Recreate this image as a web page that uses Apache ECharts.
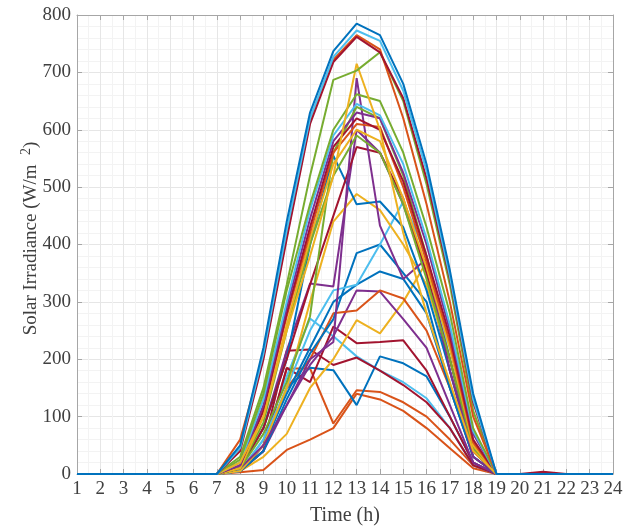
<!DOCTYPE html>
<html>
  <head>
    <meta charset="UTF-8" />
    <title>Solar Irradiance</title>
    <script src="https://cdn.jsdelivr.net/npm/echarts@6/dist/echarts.min.js"></script>
    <style>
      body {
        padding: 0;
        margin: 0;
        background: #fff;
      }
      #main {
        width: 635px;
        height: 531px;
      }
    </style>
  </head>
  <body>
    <div id="main"></div>
    <script type="text/javascript">
      // hours on the x axis
      var hours = [1, 2, 3, 4, 5, 6, 7, 8, 9, 10, 11, 12, 13, 14, 15, 16, 17, 18, 19, 20, 21, 22, 23, 24];

      // irradiance per hour (W/m2), one array per day
      var s01 = [0, 0, 0, 0, 0, 0, 0, 50, 220, 440, 630, 737, 785, 765, 680, 540, 355, 140, 0, 0, 0, 0, 0, 0];
      var s02 = [0, 0, 0, 0, 0, 0, 0, 45, 210, 425, 620, 727, 773, 755, 668, 528, 345, 130, 0, 0, 0, 0, 0, 0];
      var s03 = [0, 0, 0, 0, 0, 0, 0, 40, 200, 410, 610, 718, 762, 735, 655, 515, 340, 125, 0, 0, 4, 0, 0, 0];
      var s04 = [0, 0, 0, 0, 0, 0, 0, 60, 205, 415, 615, 722, 765, 740, 620, 470, 300, 100, 0, 0, 0, 0, 0, 0];
      var s05 = [0, 0, 0, 0, 0, 0, 0, 30, 150, 330, 520, 687, 703, 735, 650, 505, 330, 110, 0, 0, 0, 0, 0, 0];
      var s06 = [0, 0, 0, 0, 0, 0, 0, 20, 100, 250, 380, 520, 715, 600, 420, 280, 160, 40, 0, 0, 0, 0, 0, 0];
      var s07 = [0, 0, 0, 0, 0, 0, 0, 25, 140, 320, 470, 600, 662, 650, 560, 430, 280, 80, 0, 0, 0, 0, 0, 0];
      var s08 = [0, 0, 0, 0, 0, 0, 0, 20, 130, 300, 460, 590, 645, 625, 540, 410, 260, 75, 0, 0, 0, 0, 0, 0];
      var s09 = [0, 0, 0, 0, 0, 0, 0, 15, 120, 290, 445, 580, 630, 620, 525, 400, 250, 70, 0, 0, 0, 0, 0, 0];
      var s10 = [0, 0, 0, 0, 0, 0, 0, 15, 110, 280, 430, 570, 620, 600, 510, 380, 240, 60, 0, 0, 0, 0, 0, 0];
      var s11 = [0, 0, 0, 0, 0, 0, 0, 20, 115, 275, 420, 560, 610, 605, 500, 370, 230, 55, 0, 0, 0, 0, 0, 0];
      var s12 = [0, 0, 0, 0, 0, 0, 0, 10, 100, 260, 410, 540, 600, 580, 480, 360, 220, 50, 0, 0, 0, 0, 0, 0];
      var s13 = [0, 0, 0, 0, 0, 0, 0, 10, 90, 250, 400, 520, 590, 560, 470, 340, 200, 45, 0, 0, 0, 0, 0, 0];
      var s14 = [0, 0, 0, 0, 0, 0, 0, 10, 50, 120, 200, 230, 690, 433, 340, 375, 180, 40, 0, 0, 0, 0, 0, 0];
      var s15 = [0, 0, 0, 0, 0, 0, 0, 10, 80, 200, 330, 450, 570, 560, 480, 350, 200, 40, 0, 0, 0, 0, 0, 0];
      var s16 = [0, 0, 0, 0, 0, 0, 0, 10, 80, 200, 400, 555, 470, 475, 430, 320, 180, 40, 0, 0, 0, 0, 0, 0];
      var s17 = [0, 0, 0, 0, 0, 0, 0, 5, 50, 150, 300, 440, 488, 460, 400, 330, 200, 50, 0, 0, 0, 0, 0, 0];
      var s18 = [0, 0, 0, 0, 0, 0, 0, 10, 70, 160, 275, 560, 640, 620, 520, 380, 220, 50, 0, 0, 0, 0, 0, 0];
      var s19 = [0, 0, 0, 0, 0, 0, 0, 5, 60, 150, 250, 320, 330, 400, 475, 380, 200, 40, 0, 0, 0, 0, 0, 0];
      var s20 = [0, 0, 0, 0, 0, 0, 0, 5, 40, 130, 210, 270, 385, 400, 350, 300, 150, 30, 0, 0, 0, 0, 0, 0];
      var s21 = [0, 0, 0, 0, 0, 0, 0, 10, 80, 215, 332, 327, 600, 560, 470, 350, 180, 30, 0, 0, 0, 0, 0, 0];
      var s22 = [0, 0, 0, 0, 0, 0, 0, 5, 50, 150, 200, 280, 285, 320, 306, 250, 150, 30, 0, 0, 0, 0, 0, 0];
      var s23 = [0, 0, 0, 0, 0, 0, 0, 5, 40, 120, 190, 240, 320, 318, 270, 220, 120, 20, 0, 0, 0, 0, 0, 0];
      var s24 = [0, 0, 0, 0, 0, 0, 0, 5, 30, 70, 150, 200, 268, 245, 300, 370, 200, 40, 0, 0, 0, 0, 0, 0];
      var s25 = [0, 0, 0, 0, 0, 0, 0, 5, 40, 185, 160, 257, 228, 230, 233, 180, 100, 20, 0, 0, 0, 0, 0, 0];
      var s26 = [0, 0, 0, 0, 0, 0, 0, 5, 50, 215, 217, 190, 203, 180, 155, 125, 80, 15, 0, 0, 0, 0, 0, 0];
      var s27 = [0, 0, 0, 0, 0, 0, 0, 5, 40, 150, 185, 181, 120, 205, 193, 170, 100, 20, 0, 0, 0, 0, 0, 0];
      var s28 = [0, 0, 0, 0, 0, 0, 0, 5, 60, 170, 271, 240, 205, 180, 160, 132, 80, 15, 0, 0, 0, 0, 0, 0];
      var s29 = [0, 0, 0, 0, 0, 0, 0, 5, 40, 184, 184, 88, 146, 143, 125, 100, 60, 15, 0, 0, 0, 0, 0, 0];
      var s30 = [0, 0, 0, 0, 0, 0, 0, 3, 7, 42, 60, 80, 140, 130, 110, 80, 45, 10, 0, 0, 0, 0, 0, 0];
      var s31 = [0, 0, 0, 0, 0, 0, 0, 5, 50, 140, 220, 300, 330, 353, 340, 280, 150, 30, 0, 0, 0, 0, 0, 0];

      var days = [s30, s29, s28, s27, s26, s25, s24, s23, s22, s31, s20, s19, s21, s17, s16, s15, s14,
                  s18, s13, s12, s11, s10, s09, s08, s07, s06, s05, s04, s03, s02, s01];
      // matlab line colours, same order as days
      var dayColours = ["O", "O", "C", "B", "R", "R", "Y", "P", "O", "B", "B", "C", "P", "Y", "B", "R", "P",
                        "G", "G", "Y", "O", "R", "P", "C", "G", "Y", "G", "O", "R", "C", "B"];

      var palette = {
        B: "#0072BD",
        O: "#D95319",
        Y: "#EDB120",
        P: "#7E2F8E",
        G: "#77AC30",
        C: "#4DBEEE",
        R: "#A2142F"
      };

      var font = "Liberation Serif";
      var axisGray = "#a6a6a6";
      var textGray = "#404040";

      var seriesList = days.map(function(d, i) {
        return {
          type: "line",
          data: hours.map(function(h, k) {
            return [h, d[k]];
          }),
          symbol: "none",
          silent: true,
          lineStyle: { width: 2, color: palette[dayColours[i]] }
        };
      });

      var boxAxis = {
        axisLine: { show: true, onZero: false, lineStyle: { color: axisGray, width: 1 } },
        axisTick: { show: true, inside: true, length: 5, lineStyle: { color: axisGray } }
      };

      var chart = echarts.init(document.getElementById("main"));
      chart.setOption({
        animation: false,
        backgroundColor: "#fff",
        grid: { left: 77, right: 22, top: 15, bottom: 55 },
        xAxis: [
          {
            type: "value",
            min: 1,
            max: 24,
            interval: 1,
            position: "bottom",
            name: "Time (h)",
            nameLocation: "middle",
            nameGap: 32,
            nameMoveOverlap: false,
            nameTextStyle: { fontFamily: font, fontSize: 20, color: textGray },
            axisLine: boxAxis.axisLine,
            axisTick: boxAxis.axisTick,
            axisLabel: { fontFamily: font, fontSize: 19, color: textGray, margin: 6 },
            splitLine: { show: true, lineStyle: { color: "#e6e6e6", width: 1 } },
            minorTick: { show: false, splitNumber: 2 },
            minorSplitLine: { show: true, lineStyle: { color: "#f3f3f3", width: 1 } }
          },
          {
            type: "value",
            min: 1,
            max: 24,
            interval: 1,
            position: "top",
            axisLine: boxAxis.axisLine,
            axisTick: boxAxis.axisTick,
            axisLabel: { show: false },
            splitLine: { show: false }
          }
        ],
        yAxis: [
          {
            type: "value",
            min: 0,
            max: 800,
            interval: 100,
            position: "left",
            name: "Solar Irradiance (W/m  {sup|2})",
            nameLocation: "middle",
            nameGap: 34,
            nameMoveOverlap: false,
            nameRotate: 90,
            nameTextStyle: {
              fontFamily: font,
              fontSize: 19,
              color: textGray,
              padding: [0, 0, 0, 12],
              rich: {
                sup: { fontFamily: font, fontSize: 14, color: textGray, padding: [0, 0, 10, 0] }
              }
            },
            axisLine: boxAxis.axisLine,
            axisTick: boxAxis.axisTick,
            axisLabel: { fontFamily: font, fontSize: 19, color: textGray, margin: 6 },
            splitLine: { show: true, lineStyle: { color: "#e6e6e6", width: 1 } },
            minorTick: { show: false, splitNumber: 5 },
            minorSplitLine: { show: true, lineStyle: { color: "#f3f3f3", width: 1 } }
          },
          {
            type: "value",
            min: 0,
            max: 800,
            interval: 100,
            position: "right",
            axisLine: boxAxis.axisLine,
            axisTick: boxAxis.axisTick,
            axisLabel: { show: false },
            splitLine: { show: false }
          }
        ],
        series: seriesList
      });
    </script>
  </body>
</html>
